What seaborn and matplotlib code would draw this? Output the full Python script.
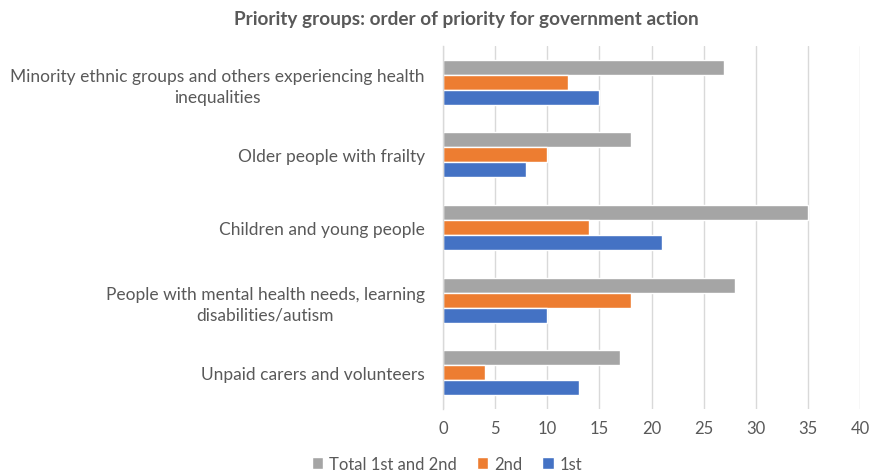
import matplotlib
matplotlib.use("Agg")
import matplotlib.pyplot as plt
import seaborn as sns
import pandas as pd
from matplotlib.patches import Patch

categories = [
    "Minority ethnic groups and others experiencing health\ninequalities",
    "Older people with frailty",
    "Children and young people",
    "People with mental health needs, learning\ndisabilities/autism",
    "Unpaid carers and volunteers",
]
series_names = ["Total 1st and 2nd", "2nd", "1st"]
total_vals = [27, 18, 35, 28, 17]
second_vals = [12, 10, 14, 18, 4]
first_vals = [15, 8, 21, 10, 13]
x_ticks = [0, 5, 10, 15, 20, 25, 30, 35, 40]
title = "Priority groups: order of priority for government action"

colors = {"Total 1st and 2nd": "#A5A5A5", "2nd": "#ED7D31", "1st": "#4472C4"}

rows = []
for name, vals in zip(series_names, [total_vals, second_vals, first_vals]):
    for c, v in zip(categories, vals):
        rows.append({"category": c, "series": name, "value": v})
df = pd.DataFrame(rows)

sns.set_theme(style="white")
plt.rcParams["font.family"] = ["Lato", "DejaVu Sans"]
txt = "#595959"

fig = plt.figure(figsize=(8.71, 4.77), dpi=100)
ax = fig.add_axes([443 / 871, 1 - 410 / 477, (860 - 443) / 871, (410 - 47) / 477])

sns.barplot(data=df, y="category", x="value", hue="series", order=categories,
            hue_order=series_names, palette=colors, orient="h", width=0.62,
            gap=0, ax=ax, legend=False, saturation=1)

ax.set_xlim(0, 40)
ax.set_xticks(x_ticks)
ax.set_xticklabels([str(t) for t in x_ticks])
ax.set_xlabel("")
ax.set_ylabel("")
ax.grid(axis="x", color="#D9D9D9", linewidth=1)
ax.set_axisbelow(True)
for s in ["top", "right", "bottom"]:
    ax.spines[s].set_visible(False)
ax.spines["left"].set_color("#D9D9D9")
ax.spines["left"].set_linewidth(1)
ax.tick_params(axis="y", length=0, pad=13, labelsize=12.5, labelcolor=txt)
ax.tick_params(axis="x", length=0, pad=8, labelsize=12, labelcolor=txt)
for lbl in ax.get_yticklabels():
    lbl.set_multialignment("center")
    lbl.set_linespacing(1.4)

fig.text(466 / 871, 1 - 20 / 477, title, ha="center", va="center",
         fontsize=13.7, fontweight="bold", color=txt)

handles = [Patch(facecolor=colors[n], label=n) for n in series_names]
leg = fig.legend(handles=handles, loc="center", bbox_to_anchor=(447 / 871, 1 - 465 / 477),
                 ncol=3, frameon=False, fontsize=12, handlelength=0.7, handleheight=0.7,
                 handletextpad=0.35, columnspacing=1.2)
for t in leg.get_texts():
    t.set_color(txt)

fig.savefig("out.png", dpi=100)
